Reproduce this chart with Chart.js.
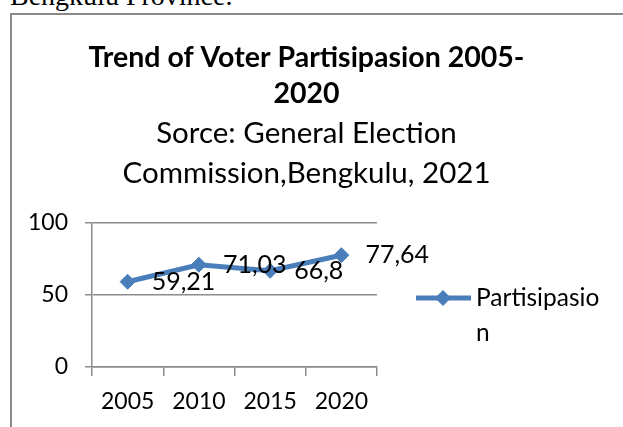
<!DOCTYPE html>
<html>
<head>
<meta charset="utf-8">
<script src="https://cdn.jsdelivr.net/npm/chart.js@4.4.0/dist/chart.umd.min.js"></script>
<style>
  html, body { margin: 0; padding: 0; background: #fff; overflow: hidden; }
  body { width: 623px; height: 427px; position: relative; }
  #doc { position: absolute; left: 10px; top: -18px; font: 28px "Liberation Serif", serif; line-height: 28px; white-space: nowrap; color: #000; }
  #frame { position: absolute; left: 10px; top: 13px; width: 700px; height: 500px; border-left: 2px solid #8a8a8a; border-top: 2px solid #8a8a8a; }
  #wrap { position: absolute; left: 0; top: 0; width: 623px; height: 427px; }
</style>
</head>
<body>
<div id="doc">Bengkulu Province.</div>
<div id="frame"></div>
<div id="wrap"><canvas id="myChart"></canvas></div>
<script>
const years = ['2005', '2010', '2015', '2020'];
const partisipasion = [59.21, 71.03, 66.8, 77.64];
const seriesName = 'Partisipasion';
const titleLines = ['Trend of Voter Partisipasion 2005-', '2020'];
const subtitleLines = ['Sorce: General Election', 'Commission,Bengkulu, 2021'];
const yMin = 0, yMax = 100, yStep = 50;

const blue = '#4A7EBB';
const gridGray = '#8c8c8c';

Chart.defaults.font.family = 'Lato';
Chart.defaults.color = '#000';

// nilai di kanan titik
const pointLabels = {
    id: 'pointLabels',
    afterDatasetsDraw(chart) {
        const ctx = chart.ctx;
        const meta = chart.getDatasetMeta(0);
        ctx.save();
        ctx.font = '25px Lato';
        ctx.fillStyle = '#000';
        ctx.textAlign = 'left';
        ctx.textBaseline = 'middle';
        meta.data.forEach((pt, i) => {
            const v = chart.data.datasets[0].data[i];
            ctx.fillText(String(v).replace('.', ','), pt.x + 24, pt.y);
        });
        ctx.restore();
    }
};

// legend dua baris ("Partisipasio" / "n")
const sideLegend = {
    id: 'sideLegend',
    afterDraw(chart) {
        const ctx = chart.ctx;
        const ds = chart.data.datasets[0];
        const x0 = chart.chartArea.right + 39;
        const y0 = chart.chartArea.top + 75;
        ctx.save();
        ctx.strokeStyle = ds.borderColor;
        ctx.lineWidth = 5;
        ctx.beginPath();
        ctx.moveTo(x0, y0);
        ctx.lineTo(x0 + 55, y0);
        ctx.stroke();
        ctx.fillStyle = ds.borderColor;
        ctx.beginPath();
        ctx.moveTo(x0 + 27, y0 - 8);
        ctx.lineTo(x0 + 35, y0);
        ctx.lineTo(x0 + 27, y0 + 8);
        ctx.lineTo(x0 + 19, y0);
        ctx.closePath();
        ctx.fill();
        ctx.fillStyle = '#000';
        ctx.font = '24.5px Lato';
        ctx.textAlign = 'left';
        ctx.textBaseline = 'middle';
        ctx.fillText(ds.label.slice(0, -1), x0 + 60, y0);
        ctx.fillText(ds.label.slice(-1), x0 + 60, y0 + 35);
        ctx.restore();
    }
};

const chart = new Chart(document.getElementById('myChart'), {
    type: 'line',
    data: {
        labels: years,
        datasets: [{
            label: seriesName,
            data: partisipasion,
            borderColor: blue,
            backgroundColor: blue,
            borderWidth: 5,
            tension: 0,
            fill: false,
            pointStyle: 'rectRot',
            pointRadius: 7.5,
            pointBorderWidth: 1,
            pointBackgroundColor: blue,
            pointBorderColor: blue
        }]
    },
    options: {
        responsive: true,
        maintainAspectRatio: false,
        animation: false,
        layout: { padding: { left: 20, right: 30, top: 0, bottom: 0 } },
        plugins: {
            legend: { display: false },
            tooltip: { enabled: false },
            title: {
                display: true,
                text: titleLines,
                font: { size: 28.5, weight: 'bold', lineHeight: '36px' },
                padding: { top: 40, bottom: 0 }
            },
            subtitle: {
                display: true,
                text: subtitleLines,
                font: { size: 29.5, lineHeight: '40px' },
                padding: { top: 1.6, bottom: 29.4 }
            }
        },
        scales: {
            x: {
                offset: true,
                grid: { drawOnChartArea: false, drawTicks: true, tickLength: 9, offset: true, color: gridGray, lineWidth: 1.5 },
                border: { display: true, color: gridGray, width: 1.5 },
                ticks: { font: { size: 23 }, padding: 11.5, maxRotation: 0 },
                afterFit: s => { s.height = 60; }
            },
            y: {
                min: yMin,
                max: yMax,
                ticks: { stepSize: yStep, font: { size: 23 }, padding: 17 },
                grid: { color: gridGray, lineWidth: 1.5, tickLength: 7 },
                border: { display: true, color: gridGray, width: 1.5 },
                afterFit: s => { s.width = 72; }
            },
            side: { // ruang kosong untuk legend
                position: 'right',
                display: true,
                grid: { display: false },
                border: { display: false },
                ticks: { display: false },
                afterFit: s => { s.width = 216; }
            }
        }
    },
    plugins: [pointLabels, sideLegend]
});
</script>
</body>
</html>
